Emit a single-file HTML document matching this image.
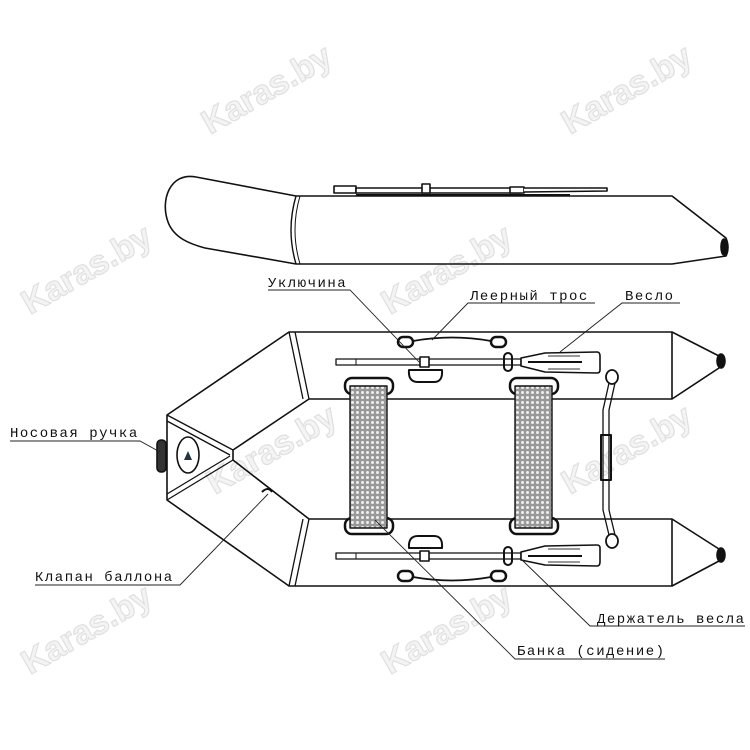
<!DOCTYPE html>
<html><head><meta charset="utf-8"><style>
html,body{margin:0;padding:0;background:#fff}
svg{display:block}
text{font-family:"Liberation Mono","DejaVu Sans Mono",monospace;font-size:14px;letter-spacing:1.5px;fill:#111}
.wm{font-family:"Liberation Sans",sans-serif;font-size:34px;font-weight:bold;fill:#f4f4f4;stroke:#e0e0e0;stroke-width:1.2;letter-spacing:0}
</style></head><body>
<svg width="750" height="750" viewBox="0 0 750 750" xmlns="http://www.w3.org/2000/svg">
<defs>
<pattern id="mesh" width="5" height="5" patternUnits="userSpaceOnUse">
<rect width="5" height="5" fill="#999"/><circle cx="2.5" cy="2.5" r="1.5" fill="#eee"/>
</pattern>
</defs>
<g>
<text class="wm" transform="translate(210,135) rotate(-30)">Karas.by</text>
<text class="wm" transform="translate(570,135) rotate(-30)">Karas.by</text>
<text class="wm" transform="translate(30,315) rotate(-30)">Karas.by</text>
<text class="wm" transform="translate(390,315) rotate(-30)">Karas.by</text>
<text class="wm" transform="translate(215,495) rotate(-30)">Karas.by</text>
<text class="wm" transform="translate(570,495) rotate(-30)">Karas.by</text>
<text class="wm" transform="translate(30,675) rotate(-30)">Karas.by</text>
<text class="wm" transform="translate(390,675) rotate(-30)">Karas.by</text>
</g>
<g fill="none" stroke="#111" stroke-width="1.6" stroke-linejoin="round">
<path d="M296,196 L196,177 C170,172 160,200 168,222 C174,238 190,244 205,248 L296,264"/>
<path d="M296,196 L672,196 L726,238 Q730,248 726,256 L672,264 L296,264" />
<path d="M296,196 Q286,230 296,264" stroke-width="1.4"/>
<path d="M300,196 Q290,230 300,264" stroke-width="1"/>
<ellipse cx="724" cy="247" rx="3" ry="8" fill="#111"/>
<rect x="334" y="186" width="22" height="7" fill="#fff"/>
<rect x="356" y="188" width="165" height="5" fill="#fff"/>
<rect x="422" y="184" width="8" height="9" fill="#fff"/>
<rect x="510" y="187" width="14" height="6" fill="#fff"/>
<path d="M524,188 L607,188 L607,191 L524,192" fill="#fff"/>
<line x1="356" y1="195" x2="570" y2="195" stroke-width="2"/>

<path d="M289,332 L672,332 L719,356 Q724,362 719,368 L672,399 L309,399 L233,450 L233,460 L309,519 L672,519 L719,549 Q724,555 719,561 L672,586 L289,586 L167,500 L167,415 Z"/>
<line x1="672" y1="332" x2="672" y2="399"/>
<line x1="672" y1="519" x2="672" y2="586"/>
<path d="M289,332 L303,399 M295,332 L309,399" stroke-width="1.3"/>
<path d="M289,586 L303,519 M295,586 L309,519" stroke-width="1.3"/>
<path d="M167,415 L233,450 M167,421 L230,455" stroke-width="1.3"/>
<path d="M167,500 L233,460 M167,494 L230,456" stroke-width="1.3"/>
<ellipse cx="721" cy="361" rx="4" ry="7" fill="#111"/>
<ellipse cx="721" cy="555" rx="4" ry="7" fill="#111"/>
<rect x="157" y="440" width="9" height="32" rx="4" fill="#333"/>
<ellipse cx="188" cy="455" rx="11" ry="18"/>
<path d="M184,460 L188,451 L192,460 Z" fill="#234" stroke="none"/>
<path d="M262,492 Q268,486 272,492" stroke-width="2"/>
<rect x="345" y="378" width="48" height="16" rx="7" stroke-width="2.5"/>
<rect x="345" y="518" width="48" height="16" rx="7" stroke-width="2.5"/>
<rect x="510" y="378" width="48" height="16" rx="7" stroke-width="2.5"/>
<rect x="510" y="518" width="48" height="16" rx="7" stroke-width="2.5"/>
<rect x="350" y="386" width="37" height="142" fill="url(#mesh)" stroke-width="1.4"/>
<rect x="515" y="386" width="37" height="142" fill="url(#mesh)" stroke-width="1.4"/>
<rect x="398" y="337" width="15" height="10" rx="5" stroke-width="2.5"/>
<rect x="491" y="337" width="15" height="10" rx="5" stroke-width="2.5"/>
<path d="M413,341 Q452,334 491,341" stroke-width="1.8"/>
<rect x="398" y="571" width="15" height="10" rx="5" stroke-width="2.5"/>
<rect x="491" y="571" width="15" height="10" rx="5" stroke-width="2.5"/>
<path d="M413,577 Q452,584 491,577" stroke-width="1.8"/>
<g id="oar">
<rect x="336" y="359" width="185" height="6" fill="#fff" stroke-width="1.3"/>
<line x1="356" y1="359" x2="356" y2="365" stroke-width="1"/>
<path d="M521,358 L545,353 L597,352 Q600,352 600,356 L600,370 Q600,373 597,373 L545,372 L521,366 Z" fill="#fff"/>
<path d="M528,362 L582,362" stroke-width="2"/>
<path d="M548,356 L580,356 M548,369 L580,369" stroke="#999" stroke-width="2"/>
<rect x="504" y="353" width="8" height="18" rx="4" stroke-width="2"/>
<rect x="420" y="357" width="9" height="10" fill="#fff"/>
<path d="M409,370 Q408,382 418,382 L434,382 Q443,382 442,370 Z" stroke-width="2"/>
</g>
<use href="#oar" transform="translate(0,918) scale(1,-1)"/>
<ellipse cx="612" cy="377" rx="6" ry="7" stroke-width="1.8"/>
<ellipse cx="612" cy="541" rx="6" ry="7" stroke-width="1.8"/>
<path d="M609,383 L603,410 L603,510 L609,535 M615,383 L609,410 L609,510 L615,535" stroke-width="1.3"/>
<rect x="601" y="435" width="10" height="45" stroke-width="2"/>
</g>
<g fill="none" stroke="#222" stroke-width="0.9">
<path d="M268,290 L350,290 L420,363"/>
<path d="M595,303 L468,303 L432,340"/>
<path d="M680,303 L622,303 L560,352"/>
<path d="M10,441 L140,441 L160,452"/>
<path d="M35,585 L180,585 L268,494"/>
<path d="M745,626 L590,626 L520,558"/>
<path d="M665,659 L515,659 L375,520"/>
</g>
<text x="268" y="287">Уключина</text>
<text x="470" y="300">Леерный трос</text>
<text x="625" y="300">Весло</text>
<text x="10" y="437">Носовая ручка</text>
<text x="35" y="581">Клапан баллона</text>
<text x="597" y="623">Держатель весла</text>
<text x="517" y="655">Банка (сидение)</text>
</svg>
</body></html>
